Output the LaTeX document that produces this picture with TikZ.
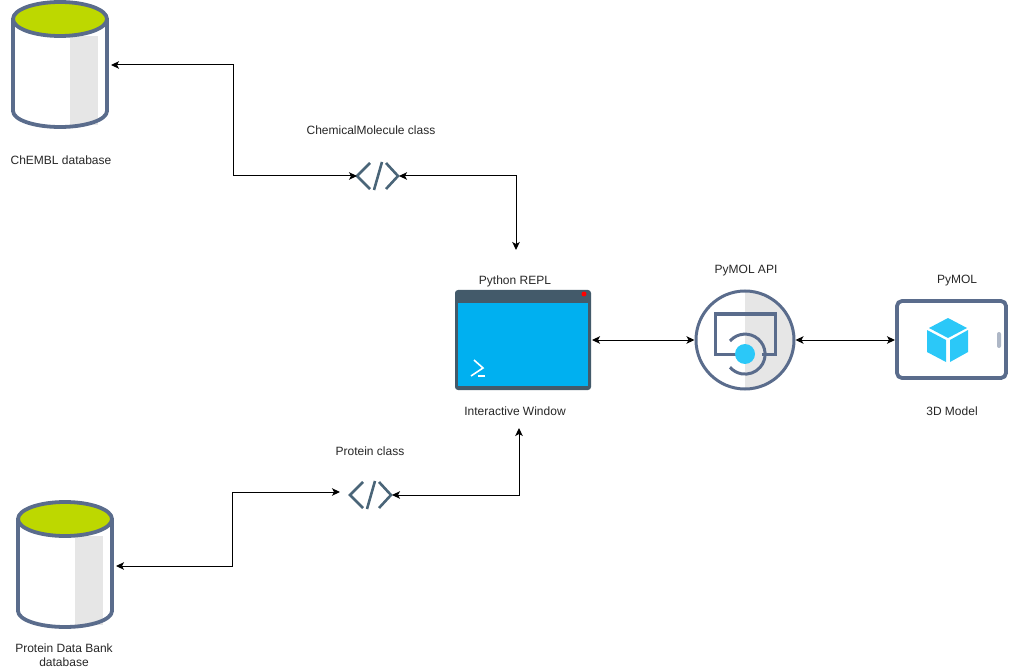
\documentclass[tikz,border=0pt]{standalone}
\usepackage{fontspec}
\setmainfont{Liberation Sans}
\usetikzlibrary{arrows.meta}

\definecolor{iconline}{HTML}{5A6C8C}
\definecolor{codeline}{HTML}{4A6578}
\definecolor{dbtop}{HTML}{BDD800}
\definecolor{panelgray}{HTML}{E6E6E6}
\definecolor{replbar}{HTML}{435A6A}
\definecolor{replblue}{HTML}{00B0F0}
\definecolor{iconblue}{HTML}{2BC8F8}
\definecolor{pillgray}{HTML}{AEB7C6}

\tikzset{
  label/.style={font=\fontsize{12}{14}\selectfont, inner sep=0pt, align=center, text=black!85},
  hit/.style={inner sep=0pt, outer sep=0pt, draw=none},
  link/.style={{Stealth[length=8pt,width=7.5pt,inset=2pt]}-{Stealth[length=8pt,width=7.5pt,inset=2pt]}, line width=1pt},
  outline/.style={draw=iconline, line width=3.8pt, line join=round},
  codemark/.style={draw=codeline, line width=2.6pt},
}

% database drum, drawn from its top left corner
\newcommand{\drum}[2]{
  \begin{scope}[shift={(#1,#2)}]
    \fill[white] (13,19) -- (13,111) arc[start angle=180, end angle=0, x radius=47, y radius=16] -- (107,19) -- cycle;
    \fill[panelgray] (69.5,36) rectangle (97.5,125);
    \draw[outline] (13,19) -- (13,111) arc[start angle=180, end angle=0, x radius=47, y radius=16] -- (107,19);
    \draw[outline, fill=dbtop] (60,19) ellipse[x radius=47, y radius=17];
  \end{scope}
}
% code brackets, drawn from their middle
\newcommand{\codemarks}[2]{
  \begin{scope}[shift={(#1,#2)}]
    \draw[codemark] (-8,-13) -- (-21,0) -- (-8,13);
    \draw[codemark] (8,-13) -- (20,0) -- (8,13);
    \draw[codemark] (4,-14) -- (-4,14);
  \end{scope}
}

\begin{document}
\begin{tikzpicture}[x=1pt,y=-1pt]
  \useasboundingbox (0,0) rectangle (1010,671);

  % Databases
  \drum{0}{0}
  \drum{5}{500}
  \node[hit, minimum width=102pt, minimum height=130pt] (chembl) at (60,65) {};
  \node[hit, minimum width=102pt, minimum height=130pt] (pdb) at (65,566) {};

  % Classes
  \codemarks{378}{176}
  \codemarks{371}{495}
  \node[hit, minimum width=42pt, minimum height=28pt] (molclass) at (378,176) {};
  \node[hit, minimum width=42pt, minimum height=28pt] (protclass) at (371,495) {};
  \coordinate (protin) at (340,492);

  % REPL window
  \fill[replbar, rounded corners=3pt] (455,290) rectangle (591,390);
  \fill[replblue] (458,303) rectangle (588,386);
  \fill[red] (584,294) circle (2.5);
  \draw[white, line width=1.6pt] (474,360) -- (483,368) -- (471,376);
  \draw[white, line width=1.6pt] (478,376) -- (485,376);
  \node[hit, minimum width=137pt, minimum height=100pt] (repl) at (523.5,340) {};
  \coordinate (replin) at (516,250);
  \coordinate (replout) at (519,428);

  % API circle
  \fill[white] (745,340) circle (49);
  \fill[panelgray] (745,291) arc[start angle=-90, end angle=90, radius=49] -- cycle;
  \draw[iconline, line width=3pt] (745,340) circle (49);
  \draw[iconline, line width=3pt] (737,354) -- (715,354) -- (715,314) -- (775,314) -- (775,354) -- (762,354);
  \draw[iconline, line width=3pt] (730,341) arc[start angle=-139, end angle=139, radius=20];
  \fill[iconblue] (745,354) circle (10);
  \node[hit, minimum width=101pt, minimum height=100pt] (api) at (745,340) {};

  % Tablet with cube
  \draw[outline, fill=white, rounded corners=5pt] (897,301) rectangle (1006,378);
  \fill[iconblue] (948,318) -- (967,328) -- (948,338) -- (929,328) -- cycle;
  \fill[iconblue] (927,330) -- (946,340) -- (946,362) -- (927,352) -- cycle;
  \fill[iconblue] (968,330) -- (950,340) -- (950,362) -- (968,352) -- cycle;
  \fill[pillgray, rounded corners=2pt] (997,332) rectangle (1001,348);
  \node[hit, minimum width=113pt, minimum height=81pt] (pymol) at (951.5,340) {};

  % Labels
  \node[label] (chembltxt) at (61,160) {ChEMBL database};
  \node[label] (pdbtxt) at (64,655) {Protein Data Bank\\database};
  \node[label] (moltxt) at (371,130) {ChemicalMolecule class};
  \node[label] (prottxt) at (370,451) {Protein class};
  \node[label] (repltxt) at (515,281) {Python REPL};
  \node[label] (wintxt) at (515,411) {Interactive Window};
  \node[label] (apitxt) at (746,271) {PyMOL API};
  \node[label] (pymoltxt) at (957,281) {PyMOL};
  \node[label] (modeltxt) at (952,411) {3D Model};

  % Connectors
  \draw[link] (chembl.east |- 0,65) -- (233,65) -- (233,176) -- (molclass.west);
  \draw[link] (molclass.east) -- (516,176) -- (replin);
  \draw[link] (repl.east) -- (api.west);
  \draw[link] (api.east) -- (pymol.west);
  \draw[link] (protin) -- (232,492) -- (232,566) -- (pdb.east);
  \draw[link] (protclass.east) -- (519,495) -- (replout);
\end{tikzpicture}
\end{document}
